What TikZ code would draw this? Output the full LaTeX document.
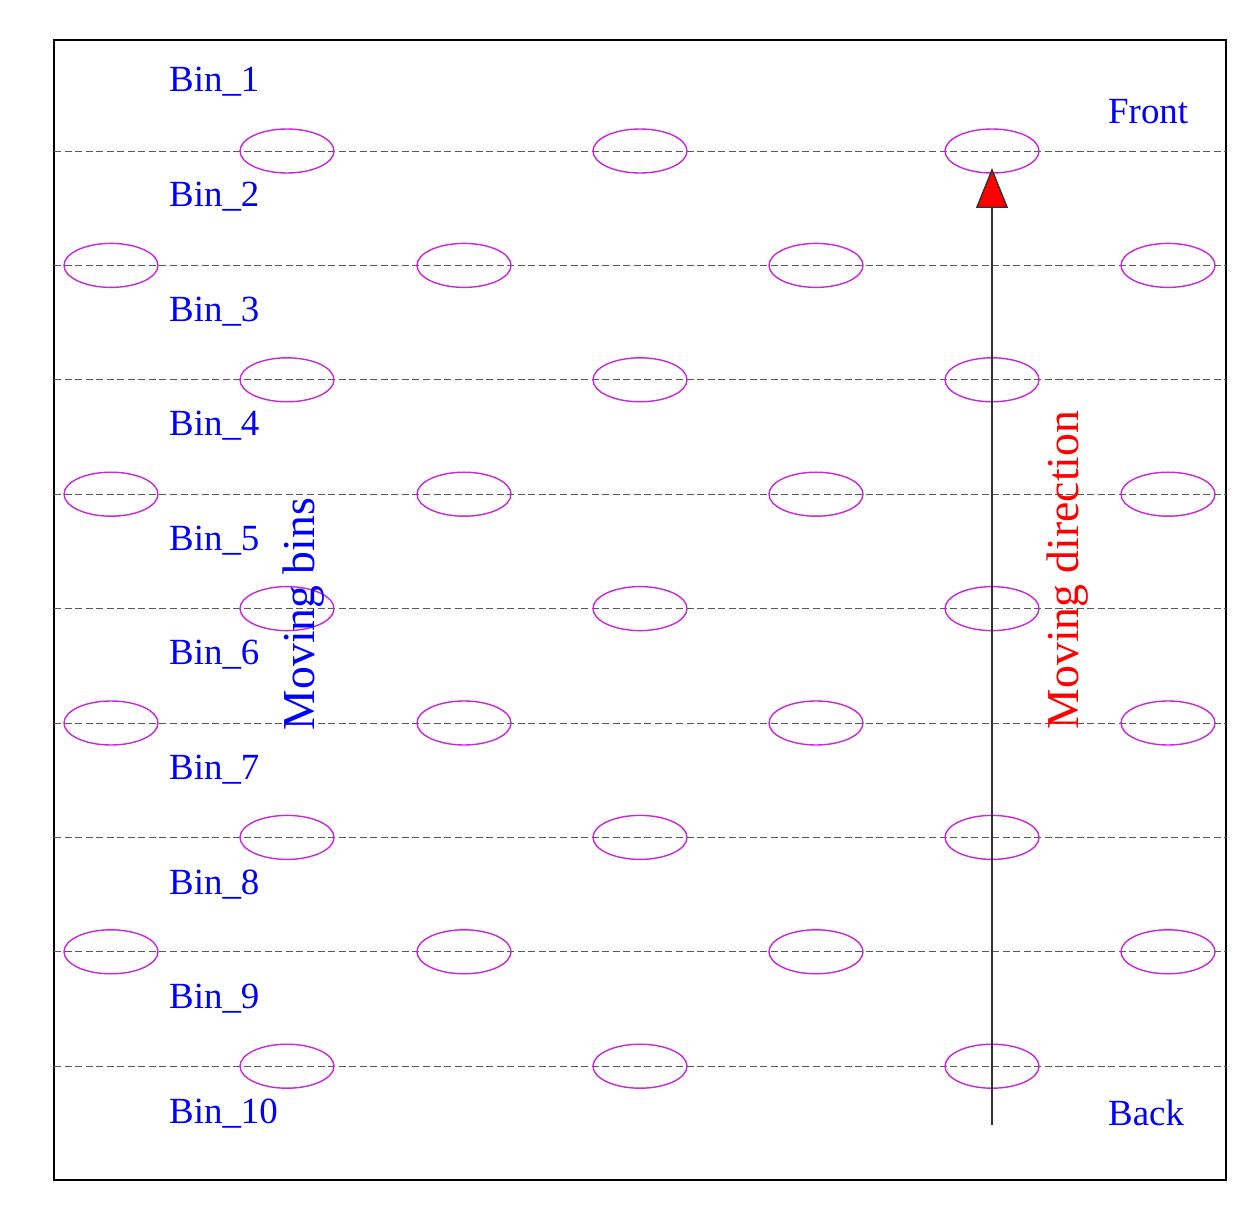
\documentclass[tikz,border=0pt]{standalone}
\usepackage{fontspec}
\setmainfont{Liberation Serif}
\usetikzlibrary{arrows.meta}

\begin{document}
\begin{tikzpicture}[x=0.02cm,y=-0.02cm]
\definecolor{seedviolet}{RGB}{200,40,220}
\tikzset{bin/.style={gray!70!black, dash pattern=on 4pt off 2pt, thin},
  seed/.style={seedviolet, thick},
  lab/.style={blue, font=\fontsize{21}{25}\selectfont, anchor=west}}
\useasboundingbox (0,0) rectangle (1254,1216);
\draw[black, line width=1.5pt] (54,40) rectangle (1226,1180) coordinate (corner); %frame
\foreach \i in {0,...,8} {
  \pgfmathsetmacro{\yy}{151+114.4*\i}
  \draw[bin] (54,\yy) -- (1226,\yy);
  \ifodd\i
    \foreach \xx in {111,464,816,1168} \draw[seed] (\xx,\yy) ellipse (47 and 22);
  \else
    \foreach \xx in {287,640,992} \draw[seed] (\xx,\yy) ellipse (47 and 22);
  \fi
}
\foreach \i in {1,...,10} {
  \pgfmathsetmacro{\yy}{82+114.6*(\i-1)}
  \node[lab] (bin\i) at (163,\yy) {Bin\_\i};
}
\node[lab] (front) at (1102,112) {Front};
\node[lab] (back) at (1102,1113) {Back};
\coordinate (tail) at (992,1125);
\coordinate (head) at (992,168);
\draw[gray!40!black, thick, -{Triangle[width=0.64cm, length=0.8cm, fill=red]}] (tail) -- (head);
\node[red, rotate=90, font=\fontsize{26}{30}\selectfont] (dir) at (1068,570) {Moving direction};
\node[blue, rotate=90, font=\fontsize{26}{30}\selectfont] (mov) at (304,614) {Moving bins};
\end{tikzpicture}
\end{document}
